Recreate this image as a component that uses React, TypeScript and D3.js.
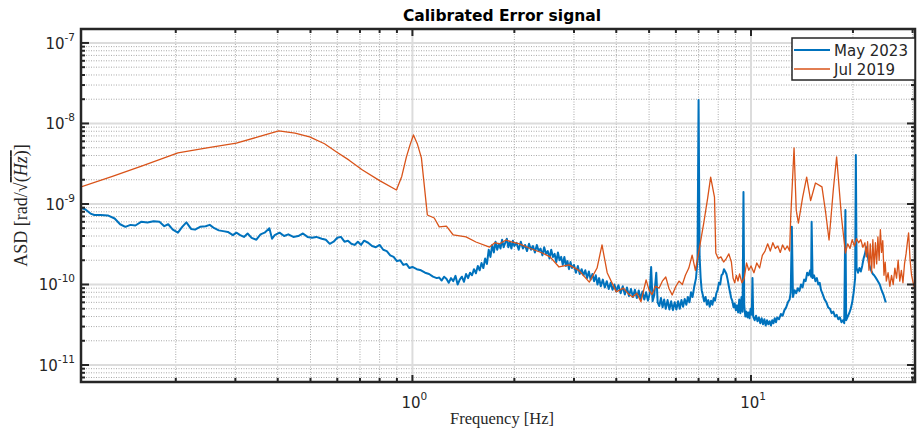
import React, { useEffect, useRef } from 'react';
import * as d3 from 'd3';

// chart texts
const title = 'Calibrated Error signal';
const seriesNames = ['May 2023', 'Jul 2019'];
const seriesColors = ['#0072BD', '#D95319'];
const xTickValues = [1, 10];
const yTickValues = [1e-7, 1e-8, 1e-9, 1e-10, 1e-11];

// [frequency Hz, ASD rad/sqrt(Hz)]
const may2023: [number, number][] = [
  [0.105, 8.9e-10], [0.108, 8.6e-10], [0.112, 7.6e-10], [0.115, 7.3e-10], [0.12, 7.3e-10],
  [0.126, 7.2e-10], [0.132, 6.6e-10], [0.137, 5.6e-10], [0.142, 5.2e-10], [0.147, 5.5e-10],
  [0.152, 5.4e-10], [0.158, 6.0e-10], [0.165, 5.9e-10], [0.172, 6.1e-10], [0.179, 6.0e-10],
  [0.185, 5.3e-10], [0.19, 5.6e-10], [0.196, 4.8e-10], [0.203, 4.4e-10], [0.209, 5.2e-10],
  [0.215, 5.9e-10], [0.222, 4.9e-10], [0.228, 4.8e-10], [0.236, 5.2e-10], [0.245, 5.3e-10],
  [0.252, 5.5e-10], [0.26, 5.0e-10], [0.268, 4.7e-10], [0.276, 4.6e-10], [0.285, 4.5e-10],
  [0.295, 4.1e-10], [0.302, 4.4e-10], [0.31, 4.1e-10], [0.318, 3.9e-10], [0.326, 4.3e-10],
  [0.335, 3.8e-10], [0.346, 3.6e-10], [0.356, 4.2e-10], [0.366, 4.4e-10], [0.378, 5.0e-10],
  [0.385, 3.7e-10], [0.392, 4.1e-10], [0.405, 4.4e-10], [0.418, 4.0e-10], [0.43, 4.2e-10],
  [0.445, 3.9e-10], [0.46, 4.0e-10], [0.475, 4.3e-10], [0.49, 3.9e-10], [0.505, 3.8e-10],
  [0.52, 3.9e-10], [0.54, 3.7e-10], [0.555, 3.6e-10], [0.57, 3.2e-10], [0.585, 3.4e-10],
  [0.6, 3.8e-10], [0.615, 3.9e-10], [0.63, 3.4e-10], [0.645, 3.5e-10], [0.66, 3.2e-10],
  [0.675, 3.1e-10], [0.69, 3.4e-10], [0.705, 3.1e-10], [0.72, 3.5e-10], [0.74, 3.3e-10],
  [0.76, 3.0e-10], [0.78, 2.9e-10], [0.8, 3.1e-10], [0.82, 2.7e-10], [0.84, 2.6e-10],
  [0.86, 2.3e-10], [0.88, 2.2e-10], [0.9, 1.95e-10], [0.92, 2.0e-10], [0.94, 1.75e-10],
  [0.96, 1.8e-10], [0.98, 1.6e-10], [1.0, 1.65e-10], [1.03, 1.55e-10], [1.06, 1.5e-10],
  [1.09, 1.4e-10], [1.12, 1.35e-10], [1.15, 1.25e-10], [1.18, 1.2e-10],
  [1.2, 1.22e-10], [1.22, 1.12e-10], [1.24, 1.25e-10], [1.26, 1.18e-10], [1.28, 1.05e-10],
  [1.3, 1.2e-10], [1.32, 1.1e-10], [1.34, 1.28e-10], [1.36, 1.0e-10], [1.38, 1.15e-10],
  [1.4, 1.25e-10], [1.42, 1.08e-10], [1.44, 1.35e-10], [1.46, 1.2e-10], [1.48, 1.4e-10],
  [1.5, 1.3e-10], [1.52, 1.55e-10], [1.54, 1.38e-10], [1.56, 1.7e-10], [1.58, 1.5e-10],
  [1.6, 1.85e-10], [1.62, 1.6e-10], [1.64, 2.1e-10], [1.66, 1.8e-10], [1.68, 2.7e-10],
  [1.7, 2.2e-10], [1.72, 3.1e-10], [1.74, 2.5e-10], [1.76, 3.4e-10], [1.78, 2.7e-10],
  [1.8, 3.2e-10], [1.82, 2.8e-10], [1.84, 3.6e-10], [1.86, 2.9e-10], [1.88, 3.3e-10],
  [1.9, 3.7e-10], [1.92, 2.9e-10], [1.94, 3.4e-10], [1.96, 2.8e-10], [1.98, 3.5e-10],
  [2.0, 3.0e-10], [2.03, 3.3e-10], [2.06, 2.7e-10], [2.09, 3.4e-10], [2.12, 2.8e-10],
  [2.15, 3.1e-10], [2.18, 2.6e-10], [2.21, 3.2e-10], [2.24, 2.7e-10], [2.27, 3.0e-10],
  [2.3, 2.5e-10], [2.33, 3.1e-10], [2.36, 2.6e-10], [2.39, 2.8e-10], [2.42, 2.3e-10],
  [2.45, 2.9e-10], [2.48, 2.4e-10], [2.51, 2.6e-10], [2.54, 2.1e-10], [2.57, 2.7e-10],
  [2.6, 2.2e-10], [2.63, 2.4e-10], [2.66, 1.9e-10], [2.69, 2.5e-10], [2.72, 2.0e-10],
  [2.75, 2.2e-10], [2.78, 1.75e-10], [2.81, 2.2e-10], [2.84, 1.7e-10], [2.87, 1.95e-10],
  [2.9, 1.55e-10], [2.93, 1.9e-10], [2.96, 1.6e-10], [3.0, 1.75e-10], [3.04, 1.4e-10],
  [3.08, 1.7e-10], [3.12, 1.35e-10], [3.16, 1.55e-10], [3.2, 1.3e-10], [3.24, 1.5e-10],
  [3.28, 1.2e-10], [3.32, 1.45e-10], [3.36, 1.15e-10], [3.4, 1.35e-10], [3.44, 1.1e-10],
  [3.48, 1.3e-10], [3.52, 1.0e-10], [3.56, 1.2e-10], [3.6, 9.5e-11], [3.65, 1.15e-10],
  [3.7, 9.2e-11], [3.75, 1.1e-10], [3.8, 8.8e-11], [3.85, 1.05e-10], [3.9, 8.6e-11],
  [3.95, 1.0e-10], [4.0, 8.2e-11], [4.06, 9.8e-11], [4.12, 7.8e-11], [4.18, 9.5e-11],
  [4.24, 7.5e-11], [4.3, 9.2e-11], [4.36, 7.2e-11], [4.42, 8.8e-11], [4.48, 7.0e-11],
  [4.54, 8.6e-11], [4.6, 6.8e-11], [4.66, 8.4e-11], [4.72, 6.6e-11], [4.78, 8.2e-11],
  [4.84, 6.5e-11], [4.9, 8.0e-11], [4.96, 6.3e-11], [5.02, 7.6e-11], [5.07, 1.65e-10],
  [5.12, 6.2e-11], [5.18, 7.4e-11], [5.25, 1.4e-10], [5.3, 6.0e-11], [5.36, 5.4e-11],
  [5.42, 6.8e-11], [5.48, 5.2e-11], [5.54, 6.5e-11], [5.6, 5.0e-11], [5.67, 6.4e-11],
  [5.74, 4.9e-11], [5.81, 6.2e-11], [5.88, 4.8e-11], [5.95, 6.0e-11], [6.02, 4.9e-11],
  [6.09, 6.2e-11], [6.16, 5.0e-11], [6.23, 6.4e-11], [6.3, 5.3e-11], [6.37, 6.6e-11],
  [6.44, 5.6e-11], [6.51, 7e-11], [6.58, 6e-11], [6.65, 8e-11], [6.72, 7e-11],
  [6.8, 9.5e-11], [6.88, 1.2e-10], [6.95, 2e-10], [7.0, 1.96e-8], [7.05, 2.2e-10],
  [7.1, 1.2e-10], [7.15, 8.5e-11], [7.2, 7.5e-11], [7.27, 6.2e-11], [7.34, 7e-11],
  [7.41, 5.6e-11], [7.48, 6.4e-11], [7.55, 5.3e-11], [7.62, 6.3e-11], [7.69, 5.6e-11],
  [7.76, 6.8e-11], [7.83, 6.3e-11], [7.9, 7.8e-11], [7.97, 8.5e-11], [8.04, 1.05e-10],
  [8.11, 1.0e-10], [8.18, 1.3e-10], [8.25, 1.35e-10], [8.32, 1.55e-10], [8.39, 1.45e-10],
  [8.46, 1.35e-10], [8.53, 1.15e-10], [8.6, 9.5e-11], [8.67, 8e-11], [8.74, 6.8e-11],
  [8.81, 6.2e-11], [8.88, 5.2e-11], [8.95, 5.8e-11], [9.02, 4.8e-11], [9.09, 5.5e-11],
  [9.16, 4.5e-11], [9.23, 6.5e-11], [9.3, 4.4e-11], [9.37, 7e-11], [9.44, 4.6e-11],
  [9.5, 1.41e-9], [9.55, 5.5e-11], [9.62, 4.0e-11], [9.69, 4.6e-11], [9.76, 3.9e-11],
  [9.83, 4.5e-11], [9.9, 3.8e-11], [9.97, 5e-11], [10.05, 4.2e-11], [10.1, 1.2e-10],
  [10.15, 4e-11], [10.25, 3.6e-11], [10.35, 4.1e-11], [10.45, 3.5e-11], [10.55, 3.9e-11],
  [10.65, 3.3e-11], [10.75, 3.8e-11], [10.85, 3.2e-11], [10.95, 3.7e-11], [11.05, 3.1e-11],
  [11.15, 3.6e-11], [11.25, 3.2e-11], [11.35, 3.5e-11], [11.45, 3.1e-11], [11.55, 3.6e-11],
  [11.65, 3.3e-11], [11.75, 3.8e-11], [11.85, 3.4e-11], [11.95, 3.9e-11], [12.1, 3.7e-11],
  [12.25, 4.3e-11], [12.4, 4.1e-11], [12.55, 4.8e-11], [12.7, 5.2e-11], [12.85, 6e-11],
  [13.0, 6.5e-11], [13.1, 8e-11], [13.2, 5.2e-10], [13.3, 7e-11], [13.45, 8.5e-11],
  [13.6, 7.8e-11], [13.75, 9e-11], [13.9, 8.3e-11], [14.05, 1.0e-10], [14.2, 9.2e-11],
  [14.35, 1.15e-10], [14.5, 1.1e-10], [14.65, 1.4e-10], [14.8, 1.3e-10], [14.95, 1.5e-10],
  [15.05, 1.25e-10], [15.1, 6e-10], [15.2, 1.2e-10], [15.35, 1.3e-10], [15.5, 1.1e-10],
  [15.65, 1.2e-10], [15.8, 1.0e-10], [15.95, 1.05e-10], [16.1, 8.5e-11], [16.3, 7.5e-11],
  [16.5, 6.5e-11], [16.7, 6e-11], [16.9, 5.2e-11], [17.1, 5e-11], [17.3, 4.4e-11],
  [17.5, 4.6e-11], [17.7, 4.0e-11], [17.9, 4.2e-11], [18.1, 3.7e-11], [18.3, 3.9e-11],
  [18.5, 3.4e-11], [18.7, 3.6e-11], [18.85, 3.3e-11], [19.0, 8.4e-10], [19.1, 3.6e-11],
  [19.3, 4e-11], [19.5, 4.4e-11], [19.7, 5e-11], [19.9, 6e-11], [20.1, 8e-11],
  [20.3, 1.2e-10], [20.4, 4.06e-9], [20.5, 1.6e-10], [20.7, 1.4e-10], [20.9, 1.6e-10],
  [21.1, 1.45e-10], [21.3, 1.7e-10], [21.5, 2.1e-10], [21.7, 2.4e-10], [21.9, 2.9e-10],
  [22.1, 2.3e-10], [22.3, 1.8e-10], [22.5, 1.6e-10], [22.7, 1.45e-10], [22.9, 1.35e-10],
  [23.1, 1.3e-10], [23.4, 1.2e-10], [23.7, 1.1e-10], [24.0, 1.0e-10], [24.3, 8.5e-11],
  [24.6, 7.5e-11], [25.0, 6e-11]
];

const jul2019: [number, number][] = [
  [0.105, 1.63e-9], [0.13, 2.2e-9], [0.16, 3.0e-9], [0.203, 4.3e-9], [0.25, 5.0e-9],
  [0.302, 5.7e-9], [0.35, 6.8e-9], [0.403, 8.07e-9], [0.45, 7.6e-9], [0.497, 6.8e-9],
  [0.55, 5.6e-9], [0.597, 4.43e-9], [0.65, 3.5e-9], [0.712, 2.64e-9], [0.8, 1.95e-9],
  [0.897, 1.49e-9], [0.93, 2.2e-9], [0.96, 3.84e-9], [0.985, 5.5e-9], [1.007, 7.2e-9],
  [1.035, 5.5e-9], [1.063, 3.73e-9], [1.107, 7.3e-10], [1.16, 6.7e-10], [1.2, 5.2e-10],
  [1.26, 5.3e-10], [1.32, 4.12e-10], [1.44, 3.9e-10], [1.54, 3.37e-10], [1.69, 2.92e-10],
  [1.75, 3.3e-10], [1.81, 3.2e-10], [1.89, 3.57e-10], [1.95, 3.4e-10], [2.07, 3.2e-10],
  [2.21, 2.84e-10], [2.42, 2.46e-10], [2.55, 2.2e-10], [2.71, 1.65e-10], [2.9, 1.75e-10],
  [3.1, 1.5e-10], [3.33, 1.07e-10], [3.51, 1.6e-10], [3.63, 3.1e-10], [3.76, 1.4e-10],
  [4.0, 8.1e-11], [4.2, 9e-11], [4.35, 7.6e-11], [4.47, 7e-11], [4.6, 7.8e-11],
  [4.73, 6.1e-11], [4.9, 1.14e-10], [5.0, 8.5e-11], [5.1, 7.5e-11], [5.22, 9.5e-11],
  [5.35, 9e-11], [5.47, 1.1e-10], [5.6, 1.24e-10], [5.72, 9e-11], [5.85, 7.4e-11],
  [6.0, 9.5e-11], [6.13, 1.1e-10], [6.27, 1.0e-10], [6.4, 1.3e-10], [6.55, 1.6e-10],
  [6.7, 2.32e-10], [6.85, 1.5e-10], [7.0, 2.46e-10], [7.25, 5.8e-10], [7.45, 1.2e-9],
  [7.6, 2.16e-9], [7.8, 1.22e-9], [7.87, 2.46e-10], [8.0, 2.1e-10], [8.15, 2.2e-10],
  [8.3, 1.9e-10], [8.45, 2.1e-10], [8.6, 2.4e-10], [8.75, 1.9e-10], [8.85, 1.2e-10],
  [8.95, 1.05e-10], [9.05, 1.3e-10], [9.15, 1.1e-10], [9.25, 1.35e-10], [9.4, 1.05e-10],
  [9.55, 1.2e-10], [9.7, 1.85e-10], [9.85, 1.5e-10], [10.0, 1.7e-10], [10.2, 1.4e-10],
  [10.4, 1.85e-10], [10.6, 1.6e-10], [10.8, 2.3e-10], [11.0, 2.6e-10], [11.2, 3.2e-10],
  [11.4, 2.6e-10], [11.6, 3.3e-10], [11.8, 2.8e-10], [12.0, 3.0e-10], [12.2, 2.5e-10],
  [12.4, 3.1e-10], [12.6, 2.7e-10], [12.8, 3.0e-10], [13.0, 2.6e-10], [13.1, 6.9e-10],
  [13.4, 4.96e-9], [13.6, 8.4e-10], [13.8, 5.8e-10], [14.2, 1.2e-9], [14.6, 2.16e-9],
  [15.0, 1.1e-9], [15.5, 1.82e-9], [16.2, 1.63e-9], [16.6, 8e-10], [17.0, 3.57e-10],
  [17.5, 1.5e-9], [17.9, 3.84e-9], [18.5, 6.9e-10], [19.0, 2.46e-10], [19.3, 3.2e-10],
  [19.6, 2.8e-10], [19.9, 3.6e-10], [20.2, 3.0e-10], [20.5, 3.7e-10], [20.8, 3.3e-10],
  [21.1, 3.6e-10], [21.4, 2.9e-10], [21.7, 3.3e-10], [21.9, 2.2e-10], [22.1, 3.4e-10],
  [22.3, 1.5e-10], [22.5, 3.2e-10], [22.7, 1.4e-10], [22.9, 3.6e-10], [23.1, 1.6e-10],
  [23.3, 3.3e-10], [23.5, 1.8e-10], [23.7, 3.9e-10], [23.9, 2.0e-10], [24.1, 4.8e-10],
  [24.3, 2.5e-10], [24.5, 3.5e-10], [24.7, 1.3e-10], [24.9, 1.9e-10], [25.1, 1.1e-10],
  [25.4, 1.4e-10], [25.7, 9.5e-11], [26.0, 1.3e-10], [26.3, 1.0e-10], [26.6, 1.6e-10],
  [26.9, 1.2e-10], [27.2, 2.0e-10], [27.5, 1.1e-10], [27.8, 1.5e-10], [28.1, 1.05e-10],
  [28.4, 1.8e-10], [28.7, 2.4e-10], [29.0, 3.5e-10], [29.2, 4.37e-10], [29.5, 2.0e-10],
  [29.8, 1.3e-10], [30.2, 1.0e-10], [30.5, 8.5e-11]
];

const App = () => {
  const ref = useRef<SVGSVGElement>(null);

  useEffect(() => {
    const width = 917;
    const height = 429;
    const plot = { left: 81, top: 29, right: 915, bottom: 382 };
    const axisColor = '#262626';
    const sans = "'DejaVu Sans', sans-serif";
    const serif = "'Liberation Serif', 'DejaVu Serif', serif";

    const svg = d3.select(ref.current);
    svg.selectAll('*').remove();
    svg.attr('width', width).attr('height', height);

    // log scales on both axes
    const xScale = d3.scaleLog().domain([0.105, 30.5]).range([plot.left, plot.right]);
    const yScale = d3.scaleLog().domain([6.15e-12, 1.49e-7]).range([plot.bottom, plot.top]);

    const xMinor = xScale.ticks();
    const yMinor = yScale.ticks();
    const isMajor = (v: number) => Math.abs(Math.log10(v) - Math.round(Math.log10(v))) < 1e-6;

    svg.append('rect')
      .attr('x', plot.left).attr('y', plot.top)
      .attr('width', plot.right - plot.left).attr('height', plot.bottom - plot.top)
      .attr('fill', '#fff');

    // grid: dotted minor, solid light major
    const grid = svg.append('g');
    grid.selectAll('line.xm')
      .data(xMinor.filter(d => !isMajor(d)))
      .enter().append('line')
      .attr('x1', d => xScale(d)).attr('x2', d => xScale(d))
      .attr('y1', plot.top).attr('y2', plot.bottom)
      .attr('stroke', '#a9a9a9').attr('stroke-width', 1).attr('stroke-dasharray', '1,1.5');
    grid.selectAll('line.ym')
      .data(yMinor.filter(d => !isMajor(d)))
      .enter().append('line')
      .attr('x1', plot.left).attr('x2', plot.right)
      .attr('y1', d => yScale(d)).attr('y2', d => yScale(d))
      .attr('stroke', '#a9a9a9').attr('stroke-width', 1).attr('stroke-dasharray', '1,1.5');
    grid.selectAll('line.xM')
      .data(xTickValues)
      .enter().append('line')
      .attr('x1', d => xScale(d)).attr('x2', d => xScale(d))
      .attr('y1', plot.top).attr('y2', plot.bottom)
      .attr('stroke', '#dcdcdc').attr('stroke-width', 2);
    grid.selectAll('line.yM')
      .data(yTickValues)
      .enter().append('line')
      .attr('x1', plot.left).attr('x2', plot.right)
      .attr('y1', d => yScale(d)).attr('y2', d => yScale(d))
      .attr('stroke', '#dcdcdc').attr('stroke-width', 2);

    // clip to plot area
    svg.append('defs').append('clipPath').attr('id', 'plotclip')
      .append('rect')
      .attr('x', plot.left).attr('y', plot.top)
      .attr('width', plot.right - plot.left).attr('height', plot.bottom - plot.top);

    const linePath = d3.line<[number, number]>()
      .x(d => xScale(d[0]))
      .y(d => yScale(d[1]));

    const lines = svg.append('g').attr('clip-path', 'url(#plotclip)');
    lines.append('path')
      .attr('d', linePath(may2023))
      .attr('fill', 'none').attr('stroke', seriesColors[0])
      .attr('stroke-width', 2).attr('stroke-linejoin', 'round');
    lines.append('path')
      .attr('d', linePath(jul2019))
      .attr('fill', 'none').attr('stroke', seriesColors[1])
      .attr('stroke-width', 1.3).attr('stroke-linejoin', 'round');

    // ticks on all four sides, pointing in
    const ticks = svg.append('g').attr('stroke', axisColor);
    xMinor.forEach(v => {
      const len = isMajor(v) ? 7 : 4;
      const x = xScale(v);
      ticks.append('line').attr('x1', x).attr('x2', x).attr('y1', plot.bottom).attr('y2', plot.bottom - len).attr('stroke-width', 2);
      ticks.append('line').attr('x1', x).attr('x2', x).attr('y1', plot.top).attr('y2', plot.top + len).attr('stroke-width', 2);
    });
    yMinor.forEach(v => {
      const len = isMajor(v) ? 8 : 4;
      const y = yScale(v);
      ticks.append('line').attr('y1', y).attr('y2', y).attr('x1', plot.left).attr('x2', plot.left + len).attr('stroke-width', 2);
      ticks.append('line').attr('y1', y).attr('y2', y).attr('x1', plot.right).attr('x2', plot.right - len).attr('stroke-width', 2);
    });

    // frame
    svg.append('rect')
      .attr('x', plot.left).attr('y', plot.top)
      .attr('width', plot.right - plot.left).attr('height', plot.bottom - plot.top)
      .attr('fill', 'none').attr('stroke', axisColor).attr('stroke-width', 2.5);

    // tick labels 10^n
    yTickValues.forEach(v => {
      const t = svg.append('text')
        .attr('x', plot.left - 6).attr('y', yScale(v) + 6)
        .attr('text-anchor', 'end').attr('font-family', sans)
        .attr('font-size', 15).attr('fill', axisColor);
      t.append('tspan').text('10');
      t.append('tspan').attr('dy', -8).attr('font-size', 10.5).text(String(Math.round(Math.log10(v))));
    });
    xTickValues.forEach(v => {
      const t = svg.append('text')
        .attr('x', xScale(v) + 2).attr('y', 408)
        .attr('text-anchor', 'middle').attr('font-family', sans)
        .attr('font-size', 15).attr('fill', axisColor);
      t.append('tspan').text('10');
      t.append('tspan').attr('dy', -8).attr('font-size', 10.5).text(String(Math.round(Math.log10(v))));
    });

    // title and axis labels
    svg.append('text')
      .attr('x', (plot.left + plot.right) / 2 + 4).attr('y', 21)
      .attr('text-anchor', 'middle').attr('font-family', sans)
      .attr('font-weight', 'bold').attr('font-size', 15.5).attr('fill', '#000')
      .text(title);

    svg.append('text')
      .attr('x', (plot.left + plot.right) / 2 + 4).attr('y', 424)
      .attr('text-anchor', 'middle').attr('font-family', serif)
      .attr('font-size', 16.5).attr('fill', axisColor)
      .text('Frequency [Hz]');

    const yl = svg.append('text')
      .attr('transform', 'translate(27,' + ((plot.top + plot.bottom) / 2) + ') rotate(-90)')
      .attr('text-anchor', 'middle').attr('font-family', serif)
      .attr('font-size', 18).attr('fill', axisColor);
    yl.append('tspan').text('ASD [rad/√');
    yl.append('tspan').attr('text-decoration', 'overline').text('(');
    yl.append('tspan').attr('text-decoration', 'overline').attr('font-style', 'italic').text('Hz');
    yl.append('tspan').attr('text-decoration', 'overline').text(')');
    yl.append('tspan').text(']');

    // legend
    const lg = { x: 792, y: 38, w: 123, h: 42 };
    svg.append('rect')
      .attr('x', lg.x).attr('y', lg.y).attr('width', lg.w).attr('height', lg.h)
      .attr('fill', '#fff').attr('stroke', axisColor).attr('stroke-width', 1.5);
    seriesNames.forEach((name, i) => {
      const y = lg.y + 12 + i * 19;
      svg.append('line')
        .attr('x1', lg.x + 2).attr('x2', lg.x + 38).attr('y1', y).attr('y2', y)
        .attr('stroke', seriesColors[i]).attr('stroke-width', i === 0 ? 2 : 1.5);
      svg.append('text')
        .attr('x', lg.x + 42).attr('y', y + 5.5)
        .attr('font-family', sans).attr('font-size', 15).attr('fill', axisColor)
        .text(name);
    });
  }, []);

  return (
    <svg ref={ref} style={{ position: 'absolute', left: 0, top: 0 }} />
  );
};

export default App;
